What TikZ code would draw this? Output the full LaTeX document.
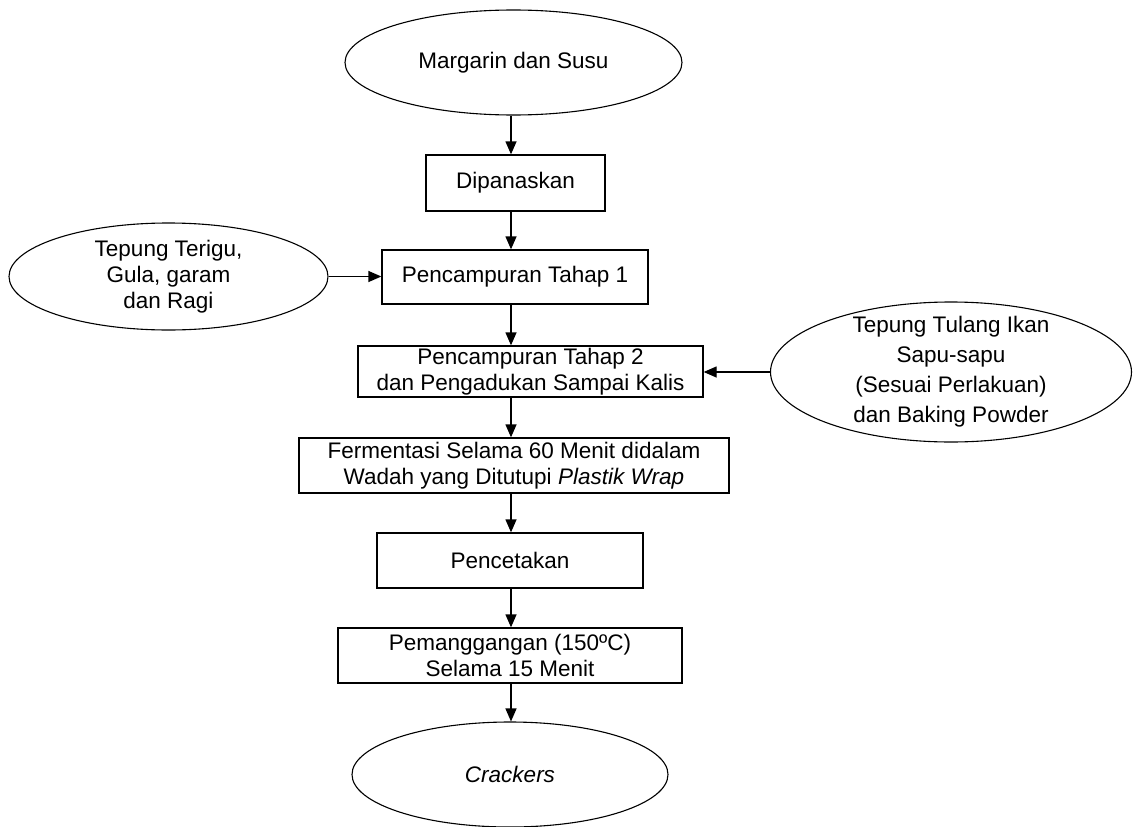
\documentclass[tikz,border=0pt]{standalone}
\usepackage{fontspec}
\setmainfont{Liberation Sans}
\usetikzlibrary{shapes.geometric,arrows.meta}
\begin{document}
\begin{tikzpicture}[x=1pt,y=-1pt,
  font=\fontsize{22.5}{26.5}\selectfont,
  box/.style={draw,line width=1.3pt,rectangle,inner sep=0pt,align=center},
  oval/.style={draw,line width=1.1pt,ellipse,inner sep=0pt},
  txt/.style={align=center,inner sep=0pt},
  arr/.style={line width=1.3pt,-{Triangle[width=11pt,length=13pt]}}]
\useasboundingbox[fill=white] (0,0) rectangle (1133,827);
\coordinate (ax) at (511,0);
% ellipses
\node[oval,minimum width=337pt,minimum height=105pt] (e1) at (513.5,62.5) {};
\node[txt] (t1) at (e1.center) {Margarin dan Susu};
\node[oval,minimum width=319pt,minimum height=107pt] (e2) at (168.5,276.5) {};
\node[txt,font=\fontsize{22.5}{26}\selectfont] (t2) at (e2.center) {Tepung Terigu,\\Gula, garam\\dan Ragi};
\node[oval,minimum width=361pt,minimum height=140pt] (e3) at (951,372) {};
\node[txt,font=\fontsize{22.5}{30}\selectfont] (t3) at (e3.center) {Tepung Tulang Ikan\\Sapu-sapu\\(Sesuai Perlakuan)\\dan Baking Powder};
\node[oval,minimum width=316pt,minimum height=105pt] (e4) at (510,774.5) {};
\node[txt] (t4) at (e4.center) {\itshape Crackers};
% boxes
\node[box,minimum width=179pt,minimum height=56pt] (d) at (515.5,183) {Dipanaskan};
\node[box,minimum width=266pt,minimum height=54pt] (b1) at (515,277) {Pencampuran Tahap 1};
\node[box,minimum width=345pt,minimum height=51pt] (b2) at (530.5,371.5) {Pencampuran Tahap 2\\dan Pengadukan Sampai Kalis};
\node[box,minimum width=430pt,minimum height=55pt] (b3) at (514,465.5) {Fermentasi Selama 60 Menit didalam\\Wadah yang Ditutupi \textit{Plastik Wrap}};
\node[box,minimum width=266pt,minimum height=55pt] (b4) at (510,560.5) {Pencetakan};
\node[box,minimum width=344pt,minimum height=55pt] (b5) at (510,655.5) {Pemanggangan (150ºC)\\Selama 15 Menit};
% connectors
\draw[arr] (e1.south -| ax) -- (d.north -| ax);
\draw[arr] (d.south -| ax) -- (b1.north -| ax);
\draw[arr] (b1.south -| ax) -- (b2.north -| ax);
\draw[arr] (b2.south -| ax) -- (b3.north -| ax);
\draw[arr] (b3.south -| ax) -- (b4.north -| ax);
\draw[arr] (b4.south -| ax) -- (b5.north -| ax);
\draw[arr] (b5.south -| ax) -- (e4.north -| ax);
\draw[arr] (e2.east) -- (e2.east -| b1.west);
\draw[arr] (e3.west) -- (e3.west -| b2.east);
\end{tikzpicture}
\end{document}
